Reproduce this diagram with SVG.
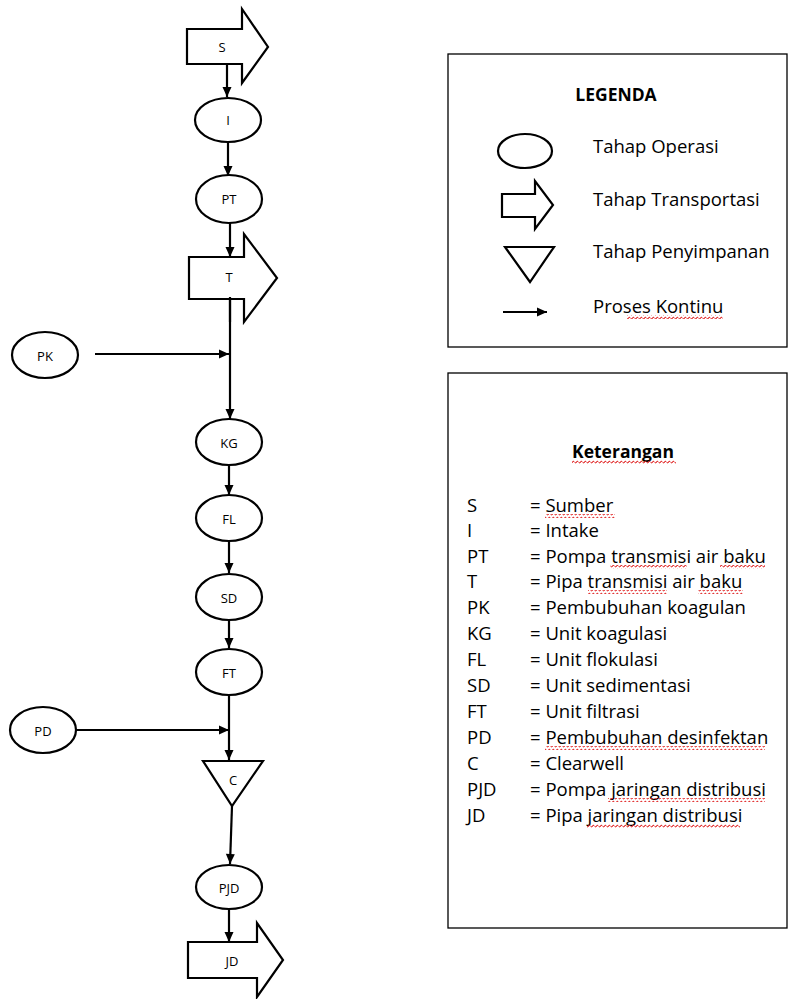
<svg xmlns="http://www.w3.org/2000/svg" width="788" height="999" viewBox="0 0 788 999">
<style>
.shp{fill:#fff;stroke:#000;stroke-width:2.2}
.box{fill:#fff;stroke:#000;stroke-width:1.3}
.con{fill:none;stroke:#000;stroke-width:2.2}
.nl{font-family:"Open Sans","Liberation Sans",sans-serif;font-size:13px;text-anchor:middle;dominant-baseline:central;fill:#000}
.tx{font-family:"Open Sans","Liberation Sans",sans-serif;font-size:18.5px;fill:#000}
.bd{font-family:"Open Sans","Liberation Sans",sans-serif;font-size:17.5px;font-weight:bold;fill:#000}
.sq{fill:url(#wave)}
</style>
<defs>
<marker id="ah" markerUnits="userSpaceOnUse" markerWidth="12" markerHeight="12" viewBox="0 0 12 12" refX="11" refY="6" orient="auto">
<path d="M1 1.5 L11 6 L1 10.5 Z" fill="#000"/>
</marker>
<pattern id="wave" patternUnits="userSpaceOnUse" width="4" height="4">
<path d="M0 3 Q1 0 2 1.5 T4 3" fill="none" stroke="#e02020" stroke-width="1"/>
</pattern>
</defs>

<g id="connectors">
<line class="con" x1="227" y1="64" x2="227" y2="97" marker-end="url(#ah)"/>
<line class="con" x1="228" y1="142" x2="228" y2="176" marker-end="url(#ah)"/>
<line class="con" x1="230" y1="223" x2="230" y2="257" marker-end="url(#ah)"/>
<line class="con" x1="230" y1="297" x2="230" y2="419" marker-end="url(#ah)"/>
<line class="con" x1="95" y1="354" x2="229" y2="354" marker-end="url(#ah)"/>
<line class="con" x1="229" y1="465" x2="229" y2="495" marker-end="url(#ah)"/>
<line class="con" x1="229" y1="542" x2="229" y2="573" marker-end="url(#ah)"/>
<line class="con" x1="229" y1="620" x2="229" y2="648" marker-end="url(#ah)"/>
<line class="con" x1="229" y1="695" x2="229" y2="760" marker-end="url(#ah)"/>
<line class="con" x1="77" y1="730" x2="229" y2="730" marker-end="url(#ah)"/>
<line class="con" x1="232" y1="806" x2="230" y2="864" marker-end="url(#ah)"/>
<line class="con" x1="229" y1="908" x2="229" y2="942" marker-end="url(#ah)"/>
</g>

<g id="S"><path class="shp" d="M187 29 H242 V9 L268 47 L242 83 V64 H187 Z"/><text class="nl" x="222" y="47">S</text></g>
<g id="I"><ellipse class="shp" cx="228" cy="120" rx="33" ry="22"/><text class="nl" x="228" y="120">I</text></g>
<g id="PT"><ellipse class="shp" cx="229" cy="199" rx="33" ry="24"/><text class="nl" x="229" y="199">PT</text></g>
<g id="T"><path class="shp" d="M189 257 H244 V234 L277 278 L244 322 V299 H189 Z"/><text class="nl" x="229" y="277">T</text></g>
<line class="con" x1="230" y1="297" x2="230" y2="322"/>
<g id="PK"><ellipse class="shp" cx="45" cy="355" rx="33" ry="23"/><text class="nl" x="45" y="356">PK</text></g>
<g id="KG"><ellipse class="shp" cx="229" cy="442" rx="33" ry="23"/><text class="nl" x="229" y="443">KG</text></g>
<g id="FL"><ellipse class="shp" cx="229" cy="518" rx="33" ry="23"/><text class="nl" x="229" y="519">FL</text></g>
<g id="SD"><ellipse class="shp" cx="229" cy="597" rx="33" ry="23"/><text class="nl" x="229" y="598">SD</text></g>
<g id="FT"><ellipse class="shp" cx="229" cy="672" rx="33" ry="23"/><text class="nl" x="229" y="673">FT</text></g>
<g id="PD"><ellipse class="shp" cx="43" cy="730" rx="33" ry="23"/><text class="nl" x="43" y="731">PD</text></g>
<g id="C"><path class="shp" d="M203 761 H263 L232 806 Z"/><text class="nl" x="233" y="780">C</text></g>
<g id="PJD"><ellipse class="shp" cx="229" cy="887" rx="33" ry="22"/><text class="nl" x="229" y="888">PJD</text></g>
<g id="JD"><path class="shp" d="M188 942 H257 V923 L283 960 L257 997 V978 H188 Z"/><text class="nl" x="232" y="961">JD</text></g>

<g id="legenda">
<rect class="box" x="448" y="54" width="339" height="293"/>
<text class="bd" x="616" y="101" text-anchor="middle">LEGENDA</text>
<ellipse class="shp" cx="525" cy="151" rx="27" ry="17"/>
<text class="tx" x="593" y="153">Tahap Operasi</text>
<path class="shp" d="M502 194 H535 V181 L553 205 L535 229 V217 H502 Z"/>
<text class="tx" x="593" y="206">Tahap Transportasi</text>
<path class="shp" d="M505 247 H554 L530 282 Z"/>
<text class="tx" x="593" y="258">Tahap Penyimpanan</text>
<line class="con" x1="503" y1="312" x2="547" y2="312" marker-end="url(#ah)"/>
<text class="tx" x="593" y="313">Proses Kontinu</text>
<rect class="sq" x="627" y="315" width="96" height="4"/>
</g>

<g id="keterangan">
<rect class="box" x="448" y="373" width="339" height="555"/>
<text class="bd" x="623" y="458" text-anchor="middle">Keterangan</text>
<rect class="sq" x="572" y="460" width="104" height="4"/>
<g class="tx">
<text x="467" y="512">S</text><text x="530" y="512">= Sumber</text>
<text x="467" y="537">I</text><text x="530" y="537">= Intake</text>
<text x="467" y="563">PT</text><text x="530" y="563">= Pompa transmisi air baku</text>
<text x="467" y="588">T</text><text x="530" y="588">= Pipa transmisi air baku</text>
<text x="467" y="614">PK</text><text x="530" y="614">= Pembubuhan koagulan</text>
<text x="467" y="640">KG</text><text x="530" y="640">= Unit koagulasi</text>
<text x="467" y="666">FL</text><text x="530" y="666">= Unit flokulasi</text>
<text x="467" y="692">SD</text><text x="530" y="692">= Unit sedimentasi</text>
<text x="467" y="718">FT</text><text x="530" y="718">= Unit filtrasi</text>
<text x="467" y="744">PD</text><text x="530" y="744">= Pembubuhan desinfektan</text>
<text x="467" y="770">C</text><text x="530" y="770">= Clearwell</text>
<text x="467" y="796">PJD</text><text x="530" y="796">= Pompa jaringan distribusi</text>
<text x="467" y="822">JD</text><text x="530" y="822">= Pipa jaringan distribusi</text>
</g>
<rect class="sq" x="545" y="514" width="70" height="4"/>
<rect class="sq" x="610" y="565" width="77" height="4"/>
<rect class="sq" x="720" y="565" width="45" height="4"/>
<rect class="sq" x="588" y="590" width="79" height="4"/>
<rect class="sq" x="698" y="590" width="45" height="4"/>
<rect class="sq" x="545" y="746" width="220" height="4"/>
<rect class="sq" x="608" y="798" width="157" height="4"/>
<rect class="sq" x="587" y="824" width="153" height="4"/>
</g>
</svg>
